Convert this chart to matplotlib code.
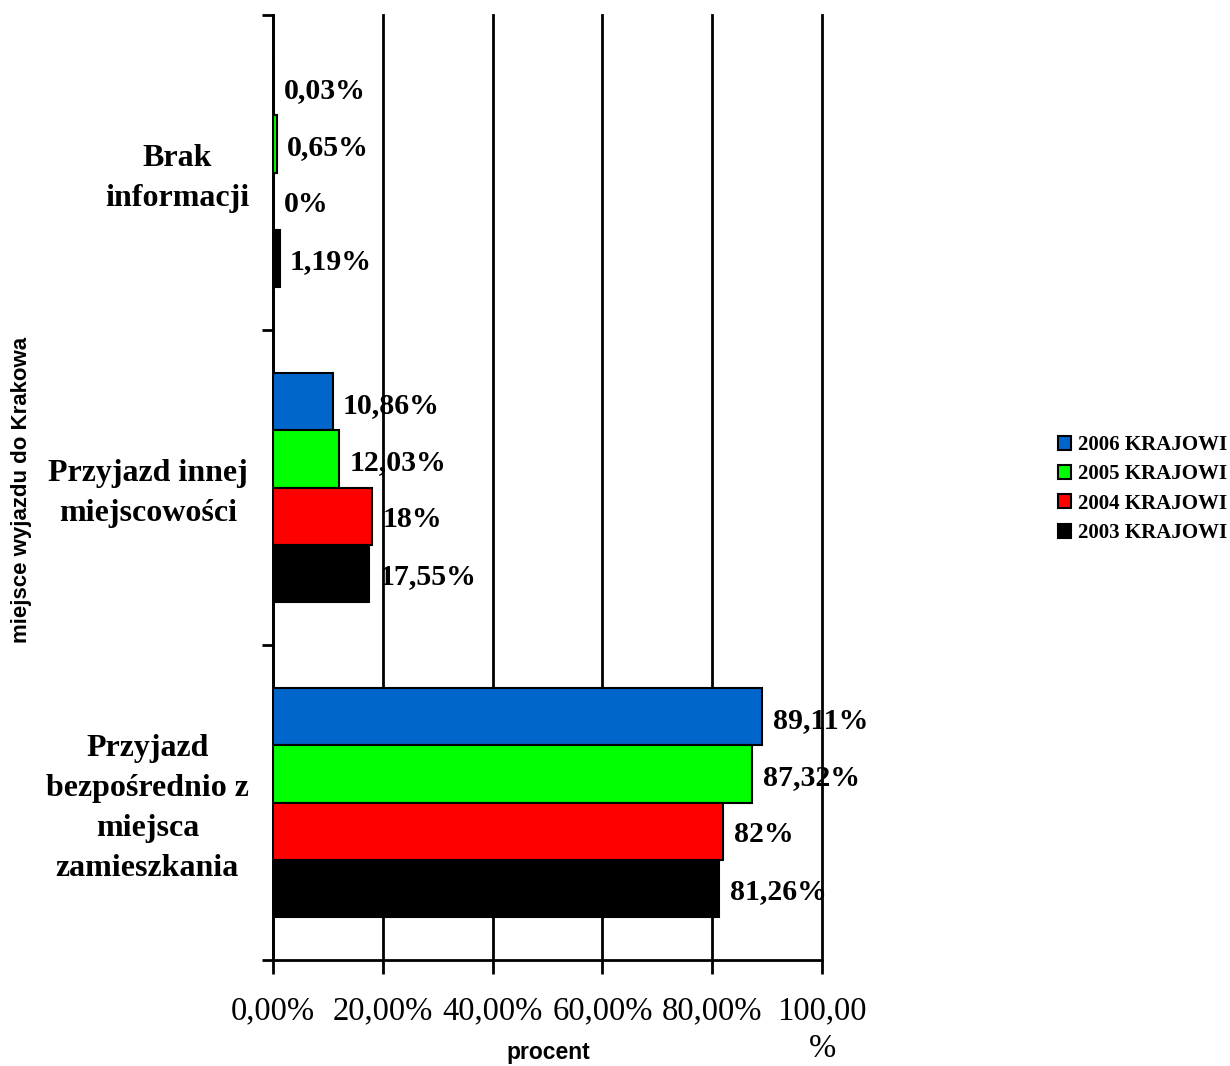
import matplotlib
matplotlib.use("Agg")
import matplotlib.pyplot as plt
import matplotlib.transforms as mtransforms
from matplotlib.patches import Patch

categories = ["Przyjazd\nbezpośrednio z\nmiejsca\nzamieszkania",
              "Przyjazd innej\nmiejscowości",
              "Brak\ninformacji"]
series_names = ["2006 KRAJOWI", "2005 KRAJOWI", "2004 KRAJOWI", "2003 KRAJOWI"]
values_2006 = [89.11, 10.86, 0.03]
values_2005 = [87.32, 12.03, 0.65]
values_2004 = [82.0, 18.0, 0.0]
values_2003 = [81.26, 17.55, 1.19]
value_labels_2006 = ["89,11%", "10,86%", "0,03%"]
value_labels_2005 = ["87,32%", "12,03%", "0,65%"]
value_labels_2004 = ["82%", "18%", "0%"]
value_labels_2003 = ["81,26%", "17,55%", "1,19%"]
xtick_values = [0, 20, 40, 60, 80, 100]
xtick_labels = ["0,00%", "20,00%", "40,00%", "60,00%", "80,00%", "100,00\n%"]

series = [values_2006, values_2005, values_2004, values_2003]
labels = [value_labels_2006, value_labels_2005, value_labels_2004, value_labels_2003]
colors = ["#0066CC", "#00FF00", "#FF0000", "#000000"]

serif = ["Liberation Serif", "DejaVu Serif"]
sans = ["Liberation Sans", "DejaVu Sans"]

fig = plt.figure(figsize=(12.3, 10.66), dpi=100)
ax = fig.add_axes([273/1230, 1-960/1066, (822-273)/1230, (960-15)/1066])

bar_h = 0.181
offsets = [1.5, 0.5, -0.5, -1.5]
for vals, labs, col, off, name in zip(series, labels, colors, offsets, series_names):
    ys = [i + off * bar_h for i in range(len(categories))]
    ax.barh(ys, vals, height=bar_h, color=col, edgecolor="black", linewidth=1.5, label=name, zorder=3)
    for y, v, l in zip(ys, vals, labs):
        ax.annotate(l, (v, y), xytext=(7.5, -2.5), textcoords="offset points",
                    ha="left", va="center", fontsize=21.5, fontweight="bold",
                    family=serif, zorder=4)

ax.set_xlim(0, 100)
ax.set_ylim(-0.5, 2.5)
ax.set_xticks(xtick_values)
ax.set_xticklabels(xtick_labels, fontsize=23.5, family=serif)
for t in ax.get_xticklabels():
    t.set_linespacing(1.3)
ax.set_yticks([-0.5, 0.5, 1.5, 2.5])
ax.set_yticklabels([])
ax.tick_params(axis="x", direction="out", length=10, width=2, pad=16)
ax.tick_params(axis="y", direction="out", length=8, width=2)
for s in ["top", "right"]:
    ax.spines[s].set_visible(False)
for s in ["left", "bottom"]:
    ax.spines[s].set_linewidth(2)
ax.grid(axis="x", color="black", linewidth=2, zorder=0)
ax.set_axisbelow(True)
for gl in ax.get_xgridlines():
    gl.set_clip_on(False)

trans = mtransforms.blended_transform_factory(ax.transAxes, ax.transData)
trans = mtransforms.offset_copy(trans, fig=fig, x=0, y=-4, units="points")
label_x = [-0.2286, -0.2277, -0.174]
for i, (cat, lx) in enumerate(zip(categories, label_x)):
    ax.text(lx, i, cat, transform=trans, ha="center", va="center",
            multialignment="center", fontsize=23, fontweight="bold",
            family=serif, linespacing=1.5)

fig.text(22/1230, 1-490/1066, "miejsce wyjazdu do Krakowa", rotation=90,
         ha="center", va="center", fontsize=16, fontweight="bold", family=sans)
fig.text(548/1230, 1-1053/1066, "procent", ha="center", va="center",
         fontsize=16.5, fontweight="bold", family=sans)

handles = [Patch(facecolor=c, edgecolor="black", linewidth=1.5) for c in colors]
leg = fig.legend(handles, series_names, loc="center left",
                 bbox_to_anchor=(1039/1230, 1-489/1066), frameon=False,
                 prop={"family": serif, "weight": "bold", "size": 15},
                 handlelength=0.65, handleheight=0.65, handletextpad=0.3,
                 labelspacing=0.45)

fig.savefig("out.png", dpi=100)
